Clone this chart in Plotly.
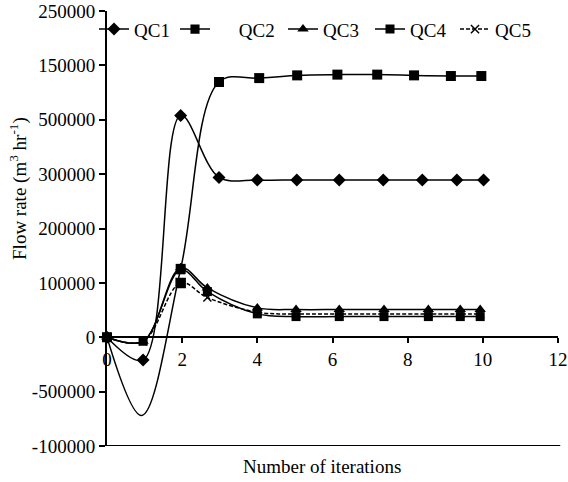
import plotly.graph_objects as go

# ---- data ----
qc1_x = [0, 0.96, 1.96, 2.98, 4.0, 5.05, 6.18, 7.35, 8.39, 9.31, 10.02]
qc1_y = [0, -21000, 204000, 147000, 144600, 144600, 144600, 144600, 144600, 144600, 144600]

qc2_x = [0, 0.92, 1.96, 2.98, 4.05, 5.06, 6.13, 7.19, 8.17, 9.15, 9.96]
qc2_y = [0, -72000, 62900, 234700, 238300, 240800, 241500, 241500, 240800, 240200, 240200]

low_x = [0, 0.96, 1.96, 2.67, 4.0, 5.03, 6.18, 7.37, 8.55, 9.4, 9.93]
qc3_y = [0, -3700, 64000, 45400, 27000, 25500, 25500, 25500, 25500, 25500, 25500]
qc4_y = [0, -3700, 62000, 42000, 21500, 19000, 19000, 19000, 19000, 19000, 19000]
qc5_y = [0, -3700, 50000, 36500, 23000, 21400, 21400, 21400, 21400, 21400, 21400]

y_tickvals = [-100000, -50000, 0, 50000, 100000, 150000, 200000, 250000, 300000]
y_ticktext = ['-100000', '-500000', '0', '100000', '200000', '300000', '500000', '150000', '250000']
x_tickvals = [0, 2, 4, 6, 8, 10, 12]

FONT = "Times New Roman"
NB = "\u00a0"

fig = go.Figure()

line_style = dict(color='black', width=1.5, shape='spline', smoothing=1)

fig.add_trace(go.Scatter(x=qc1_x, y=qc1_y, name='QC1', mode='lines+markers',
                         line=line_style, marker=dict(symbol='diamond', size=10, color='black', opacity=1),
                         cliponaxis=False, legend='legend'))
qc2_sizes = [10] * len(qc2_x)
qc2_sizes[1] = 0
fig.add_trace(go.Scatter(x=qc2_x, y=qc2_y, name=NB * 5 + 'QC2', mode='lines+markers',
                         line=line_style,
                         marker=dict(symbol='square', size=qc2_sizes, color='black', opacity=1,
                                     line=dict(width=0)),
                         cliponaxis=False, legend='legend2'))
qc5_symbols = ['x-thin'] * len(low_x)
qc5_symbols[2] = 'square'
qc5_sizes = [8] * len(low_x)
qc5_sizes[2] = 9
fig.add_trace(go.Scatter(x=low_x, y=qc5_y, name='QC5', mode='lines+markers',
                         line=dict(color='black', width=1.5, shape='spline', smoothing=1, dash='4px,2px'),
                         marker=dict(symbol=qc5_symbols, size=qc5_sizes, color='black', opacity=1,
                                     line=dict(width=1.5, color='black')),
                         cliponaxis=False, legend='legend5'))
fig.add_trace(go.Scatter(x=low_x, y=qc4_y, name='QC4', mode='lines+markers',
                         line=line_style, marker=dict(symbol='square', size=9, color='black', opacity=1),
                         cliponaxis=False, legend='legend4'))
fig.add_trace(go.Scatter(x=low_x, y=qc3_y, name='QC3', mode='lines+markers',
                         line=line_style, marker=dict(symbol='triangle-up', size=10, color='black', opacity=1),
                         cliponaxis=False, legend='legend3'))

def leg(xpx):
    return dict(x=(xpx - 107) / 451, xanchor='left', y=0.958, yanchor='middle',
                orientation='h', bgcolor='rgba(0,0,0,0)', borderwidth=0,
                font=dict(family=FONT, size=19, color='black'))

fig.update_layout(
    width=568, height=482,
    margin=dict(l=107, r=10, t=11, b=36, autoexpand=False),
    paper_bgcolor='white', plot_bgcolor='white',
    font=dict(family=FONT, size=19, color='black'),
    showlegend=True,
    legend=leg(94), legend2=leg(175), legend3=leg(283), legend4=leg(370), legend5=leg(455),
    xaxis=dict(range=[0, 12], tickvals=x_tickvals, ticktext=[str(v) for v in x_tickvals],
               anchor='free', position=0.25, showline=True, linewidth=2, linecolor='black',
               ticks='outside', ticklen=5, tickwidth=2, tickcolor='black', automargin=False,
               ticklabeloverflow='allow',
               showgrid=False, zeroline=False, tickfont=dict(family=FONT, size=19)),
    yaxis=dict(range=[-100000, 300000], tickvals=y_tickvals, ticktext=y_ticktext,
               showline=True, linewidth=2, linecolor='black', automargin=False,
               ticklabeloverflow='allow',
               ticks='outside', ticklen=6, tickwidth=2, tickcolor='black',
               showgrid=False, zeroline=False, tickfont=dict(family=FONT, size=19)),
    shapes=[dict(type='line', xref='paper', yref='y', x0=0, x1=1.005, y0=-100000, y1=-100000,
                 line=dict(color='black', width=2))],
    annotations=[
        dict(text='Number of iterations', xref='paper', yref='paper', x=0.477, y=-0.048,
             xanchor='center', yanchor='middle', showarrow=False, font=dict(family=FONT, size=19)),
        dict(text='Flow rate (m<sup>3</sup> hr<sup>-1</sup>)', xref='paper', yref='paper',
             x=-0.195, y=0.591, xanchor='center', yanchor='middle', textangle=-90,
             showarrow=False, font=dict(family=FONT, size=19)),
    ],
)

fig.write_html("out.html", config={'displayModeBar': False},
               post_script="document.body.style.margin='0';document.body.style.padding='0';")
